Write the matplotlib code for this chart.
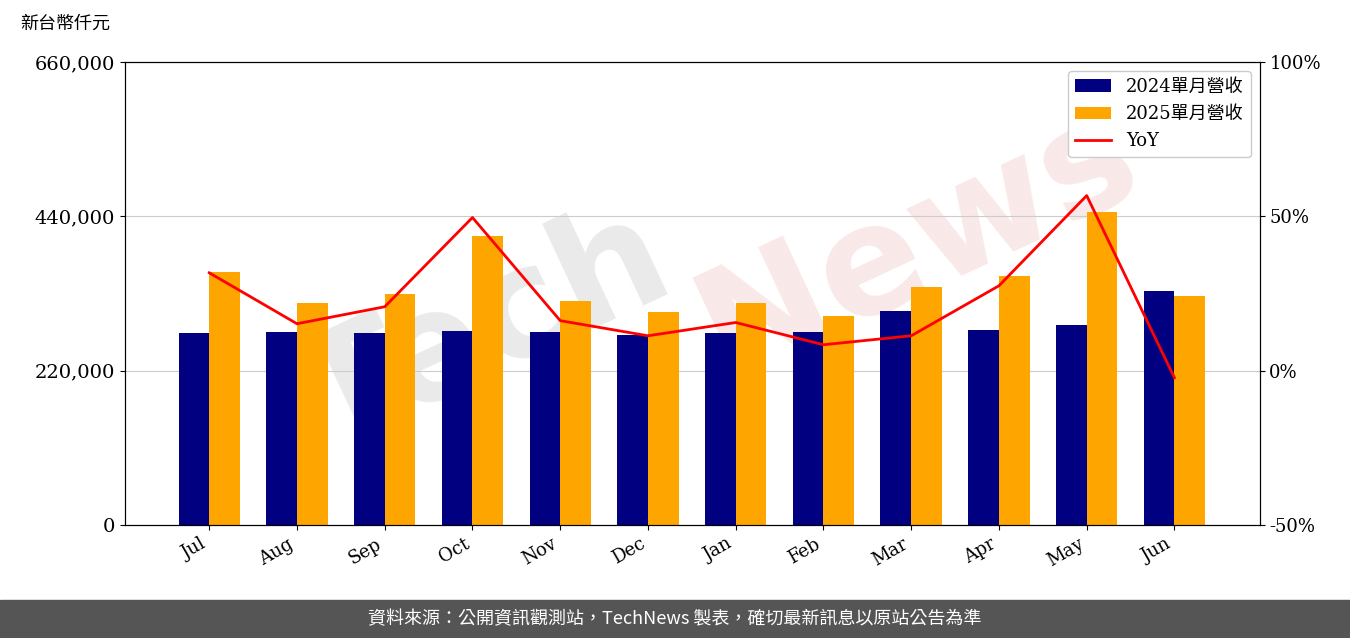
import numpy as np
import matplotlib.pyplot as plt

plt.rcParams['font.family'] = ['DejaVu Serif', 'Noto Sans CJK TC']

months = ['Jul', 'Aug', 'Sep', 'Oct', 'Nov', 'Dec', 'Jan', 'Feb', 'Mar', 'Apr', 'May', 'Jun']
rev_2024 = [273700, 275000, 273700, 276500, 275000, 270800, 273700, 275000, 305000, 278000, 285000, 333600]
rev_2025 = [360600, 316500, 329000, 412000, 319000, 303600, 316500, 298000, 339000, 355000, 446000, 326000]
yoy = [31.7, 15.2, 20.7, 49.6, 16.2, 11.3, 15.6, 8.4, 11.3, 27.5, 56.7, -2.3]

fig = plt.figure(figsize=(13.5, 6.38), dpi=100)
fig.text(0.36, 0.48, 'Tech', fontsize=110, rotation=25, color='#dddddd', alpha=0.6,
         ha='center', va='center', fontweight='bold', family=['DejaVu Sans'], zorder=-5)
fig.text(0.68, 0.62, 'News', fontsize=110, rotation=25, color='#f5dada', alpha=0.6,
         ha='center', va='center', fontweight='bold', family=['DejaVu Sans'], zorder=-5)

ax = fig.add_axes([0.0926, 0.177, 0.8404, 0.726])
ax.patch.set_alpha(0)
x = np.arange(len(months))
w = 0.35
ax.bar(x - w / 2, rev_2024, w, color='#000080', label='2024單月營收', zorder=2)
ax.bar(x + w / 2, rev_2025, w, color='#FFA500', label='2025單月營收', zorder=2)
ax.set_ylim(0, 660000)
ax.set_yticks([0, 220000, 440000, 660000])
ax.set_yticklabels(['0', '220,000', '440,000', '660,000'], fontsize=14)
ax.yaxis.grid(True, color='#cccccc', zorder=0)
ax.set_xticks(x)
ax.set_xticklabels(months, rotation=30, ha='right', fontsize=13)
ax.set_xlim(-0.96, 11.97)

ax2 = ax.twinx()
ax2.plot(x, yoy, color='red', lw=2, label='YoY')
ax2.set_ylim(-50, 100)
ax2.set_yticks([-50, 0, 50, 100])
ax2.set_yticklabels(['-50%', '0%', '50%', '100%'], fontsize=13)

h1, l1 = ax.get_legend_handles_labels()
h2, l2 = ax2.get_legend_handles_labels()
ax2.legend(h1 + h2, l1 + l2, loc='upper right', fontsize=13, framealpha=1)

fig.text(0.015, 0.955, '新台幣仟元', fontsize=13, family=['Noto Sans CJK TC'])

fig.patches.append(plt.Rectangle((0, 0), 1, 0.06, transform=fig.transFigure, color='#555555', zorder=0))
fig.text(0.5, 0.03, '資料來源：公開資訊觀測站，TechNews 製表，確切最新訊息以原站公告為準',
         color='white', fontsize=13, ha='center', va='center', family=['Noto Sans CJK TC'])

fig.savefig('out.png')
